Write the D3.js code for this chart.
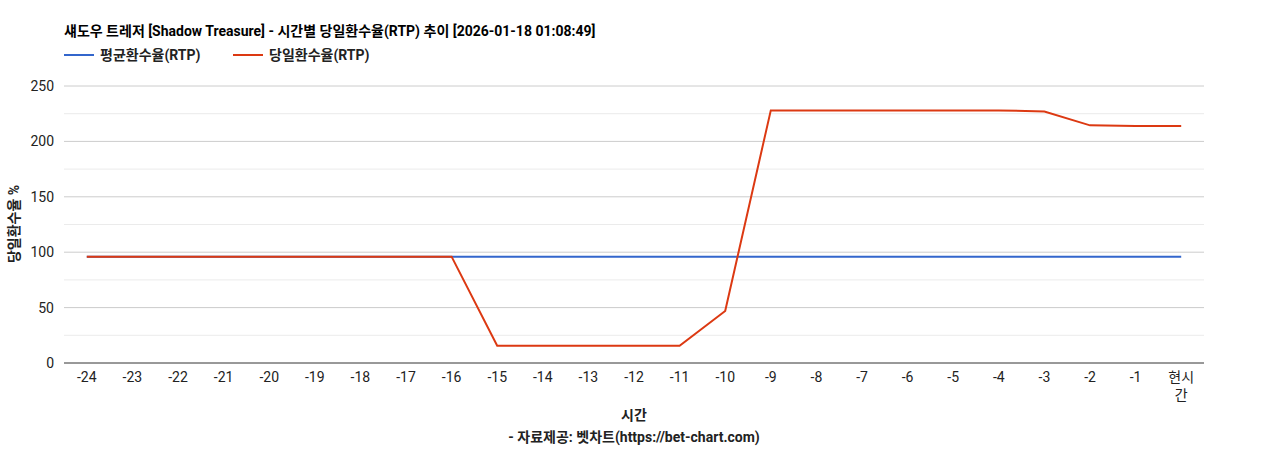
<!DOCTYPE html>
<html><head><meta charset="utf-8">
<script src="https://cdn.jsdelivr.net/npm/d3@7"></script>
<style>body{margin:0;background:#fff}text{font-family:Roboto,"Noto Sans CJK KR",sans-serif}</style>
</head><body><svg id="c" width="1268" height="450"></svg>
<script>
const categories=["-24","-23","-22","-21","-20","-19","-18","-17","-16","-15","-14","-13","-12","-11","-10","-9","-8","-7","-6","-5","-4","-3","-2","-1","현시간"];
const avgRtp=[96,96,96,96,96,96,96,96,96,96,96,96,96,96,96,96,96,96,96,96,96,96,96,96,96];
const dailyRtp=[96,96,96,96,96,96,96,96,96,15.5,15.5,15.5,15.5,15.5,47,228,228,228,228,228,228,227,214.5,214,214];
const yTicks=[0,50,100,150,200,250];
const minorTicks=[25,75,125,175,225];
const svg=d3.select("#c");
const L=64,R=1204,T=86,B=363;
const x=d3.scalePoint().domain(categories).range([L,R]).padding(0.5);
const y=d3.scaleLinear().domain([0,250]).range([B,T]);
svg.append("g").selectAll("line").data(minorTicks).join("line").attr("x1",L).attr("x2",R).attr("y1",d=>y(d)).attr("y2",d=>y(d)).attr("stroke","#ebebeb");
svg.append("g").selectAll("line").data(yTicks.slice(1)).join("line").attr("x1",L).attr("x2",R).attr("y1",d=>y(d)).attr("y2",d=>y(d)).attr("stroke","#cccccc");
svg.append("line").attr("x1",L).attr("x2",R).attr("y1",B).attr("y2",B).attr("stroke","#333");
svg.append("g").selectAll("text").data(yTicks).join("text").attr("x",L-10).attr("y",d=>y(d)+5).attr("text-anchor","end").attr("font-size",14).attr("fill","#222").text(d=>d);
const xt=svg.append("g").selectAll("text").data(categories).join("text").attr("x",d=>x(d)).attr("y",B+19).attr("text-anchor","middle").attr("font-size",14).attr("fill","#222");
xt.each(function(d){const t=d3.select(this);if(d==="현시간"){t.append("tspan").attr("x",x(d)).text("현시");t.append("tspan").attr("x",x(d)).attr("dy",18).text("간");}else t.text(d);});
const line=d3.line().x((d,i)=>x(categories[i])).y(d=>y(d));
svg.append("path").datum(avgRtp).attr("d",line).attr("fill","none").attr("stroke","#3366cc").attr("stroke-width",2);
svg.append("path").datum(dailyRtp).attr("d",line).attr("fill","none").attr("stroke","#dc3912").attr("stroke-width",2);
svg.append("text").attr("x",64).attr("y",36).attr("font-size",14).attr("font-weight","bold").attr("fill","#000").text("섀도우 트레저 [Shadow Treasure] - 시간별 당일환수율(RTP) 추이 [2026-01-18 01:08:49]");
const leg=[["평균환수율(RTP)","#3366cc",64],["당일환수율(RTP)","#dc3912",233]];
leg.forEach(([t,c,lx])=>{svg.append("line").attr("x1",lx).attr("x2",lx+30).attr("y1",55).attr("y2",55).attr("stroke",c).attr("stroke-width",2);
svg.append("text").attr("x",lx+36).attr("y",60).attr("font-size",14).attr("font-weight","bold").attr("fill","#222").text(t);});
svg.append("text").attr("x",634).attr("y",420).attr("text-anchor","middle").attr("font-size",14).attr("font-weight","bold").attr("fill","#222").text("시간");
svg.append("text").attr("x",634).attr("y",442).attr("text-anchor","middle").attr("font-size",14).attr("font-weight","bold").attr("fill","#222").text("- 자료제공: 벳차트(https://bet-chart.com)");
svg.append("text").attr("transform","translate(19,224) rotate(-90)").attr("text-anchor","middle").attr("font-size",14).attr("font-weight","bold").attr("fill","#222").text("당일환수율 %");
</script></body></html>
